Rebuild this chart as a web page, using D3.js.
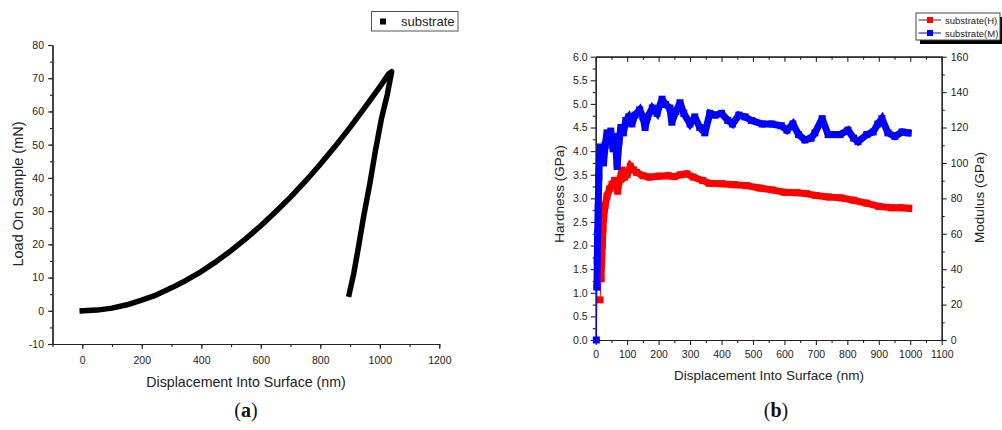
<!DOCTYPE html>
<html><head><meta charset="utf-8">
<script src="https://cdn.jsdelivr.net/npm/d3@7"></script>
<style>
body{margin:0;background:#fff;}
svg{display:block;font-family:"Liberation Sans",Arial,sans-serif;}
</style></head><body>
<svg id="chart" width="1002" height="430"></svg>
<script>
// ---- Panel (a): load vs. displacement ----
const loadingDepth = [0,50,100,150,200,250,300,350,400,450,500,550,600,650,700,750,800,850,900,950,1000,1030,1040];
const loadingForce = [0,0.2,0.8,1.8,3.2,4.8,6.9,9.2,11.8,14.8,18.1,21.7,25.6,29.8,34.2,39.0,44.1,49.5,55.2,61.2,67.4,71.3,72];
const unloadingDepth = [1040,1025,1006,985,967,945,927,912,897];
const unloadingForce = [72,65,58,48,38.5,28,18.5,11,5];
const ticksA_x = [0,200,400,600,800,1000,1200];
const ticksA_y = [-10,0,10,20,30,40,50,60,70,80];

// ---- Panel (b): hardness and modulus vs. displacement ----
const hardDepth = [14,17,19,21,23,26,30,36,44,52,60,66,70,74,84,92,100,110,120,130,150,170,200,230,250,270,290,310,340,360,400,440,480,520,560,600,640,670,700,740,780,820,860,900,940,970,995];
const hardness  = [0.85,1.3,1.65,2.0,2.35,2.65,2.85,3.05,3.2,3.3,3.38,3.25,3.15,3.35,3.6,3.45,3.5,3.68,3.6,3.55,3.48,3.45,3.47,3.48,3.46,3.5,3.52,3.45,3.38,3.32,3.31,3.29,3.27,3.22,3.18,3.13,3.12,3.1,3.06,3.03,3.01,2.96,2.9,2.83,2.8,2.8,2.79];
const modDepth = [2,4,5,6,8,10,12,15,20,25,30,36,42,48,55,62,68,74,80,88,96,105,115,125,140,150,157,165,180,195,211,222,236,242,255,268,280,300,315,331,347,363,380,400,420,435,455,475,495,530,560,590,608,627,645,665,685,697,720,739,760,777,802,820,834,862,882,897,910,929,951,974,993];
const modulus  = [0,30,45,60,75,92,103,109,104,100,110,117,112,118,108,115,98,112,120,117,124,126,122,127,130,126,120,126,131,128,136,133,131,123,129,134,128,122,126,120,117,128,127,128,124,122,127,126,124,122,122,121,118.5,122,116,113,114,117,125,116,116,116,118.5,114,112,116,117.5,122,125,117,115,117.5,117];
const ticksB_x = d3.range(0,1101,100);
const ticksB_h = d3.range(0,6.01,0.5);
const ticksB_m = d3.range(0,161,20);

const ink = "#222";
const svg = d3.select("#chart");
const intHyphen = d => String(Math.round(d));   // plain hyphen for negatives

function styleAxis(g, fontSize){
  g.select(".domain").attr("stroke", ink).attr("stroke-width", 1.2);
  g.selectAll(".tick line").attr("stroke", ink).attr("stroke-width", 1.1);
  g.selectAll(".tick text").attr("fill", ink).attr("font-size", fontSize)
    .attr("font-family", '"Liberation Sans",Arial,sans-serif');
  return g;
}

// ================= Panel (a) =================
const xA = d3.scaleLinear().domain([-100,1200]).range([52.5,439.3]);
const yA = d3.scaleLinear().domain([-10,80]).range([344,45]);
const gA = svg.append("g");

// minor ticks
gA.append("g").attr("transform","translate(0,344)")
  .call(d3.axisBottom(xA).tickValues(d3.range(-100,1201,100)).tickSize(3).tickSizeOuter(0).tickFormat(""))
  .call(g=>styleAxis(g,10.5));
gA.append("g").attr("transform","translate(52.5,0)")
  .call(d3.axisLeft(yA).tickValues(d3.range(-10,81,5)).tickSize(2.5).tickSizeOuter(0).tickFormat(""))
  .call(g=>styleAxis(g,10.5));
// major ticks with labels
gA.append("g").attr("transform","translate(0,344)")
  .call(d3.axisBottom(xA).tickValues(ticksA_x).tickSize(5).tickPadding(8).tickSizeOuter(0).tickFormat(intHyphen))
  .call(g=>styleAxis(g,10.5));
gA.append("g").attr("transform","translate(52.5,0)")
  .call(d3.axisLeft(yA).tickValues(ticksA_y).tickSize(4.5).tickPadding(4).tickSizeOuter(0).tickFormat(intHyphen))
  .call(g=>styleAxis(g,10.5));

gA.append("text").attr("x",246).attr("y",386.5).attr("text-anchor","middle")
  .attr("font-size",14.2).attr("fill",ink).text("Displacement Into Surface (nm)");
gA.append("text").attr("transform","translate(18,194) rotate(-90)")
  .attr("text-anchor","middle").attr("dominant-baseline","central")
  .attr("font-size",14.5).attr("fill",ink).text("Load On Sample (mN)");

const lineA = d3.line().x(d=>xA(d[0])).y(d=>yA(d[1]));
const curveA = loadingDepth.map((d,i)=>[d,loadingForce[i]])
  .concat(unloadingDepth.map((d,i)=>[d,unloadingForce[i]]));
gA.append("path").attr("d",lineA(curveA)).attr("fill","none")
  .attr("stroke","#000").attr("stroke-width",5.5)
  .attr("stroke-linejoin","round").attr("stroke-linecap","square");

// legend (a)
const legA = gA.append("g");
legA.append("rect").attr("x",371.5).attr("y",11.5).attr("width",86.5).attr("height",19.5)
  .attr("fill","#fff").attr("stroke","#555").attr("stroke-width",1);
legA.append("rect").attr("x",380).attr("y",18.5).attr("width",6).attr("height",6).attr("fill","#000");
legA.append("text").attr("x",401).attr("y",26).attr("font-size",13).attr("fill",ink).text("substrate");

// ================= Panel (b) =================
const xB = d3.scaleLinear().domain([0,1100]).range([595.7,941.7]);
const yH = d3.scaleLinear().domain([0,6]).range([340,56.7]);
const yM = d3.scaleLinear().domain([0,160]).range([340,56.7]);
const gB = svg.append("g");

// top frame (ticks pointing inward)
gB.append("g").attr("transform","translate(0,56.7)")
  .call(d3.axisTop(xB).tickValues(d3.range(50,1100,100)).tickSize(-3).tickSizeOuter(0).tickFormat(""))
  .call(g=>styleAxis(g,10.5));
gB.append("g").attr("transform","translate(0,56.7)")
  .call(d3.axisTop(xB).tickValues(ticksB_x).tickSize(-5).tickSizeOuter(0).tickFormat(""))
  .call(g=>styleAxis(g,10.5));
// bottom axis
gB.append("g").attr("transform","translate(0,340)")
  .call(d3.axisBottom(xB).tickValues(d3.range(50,1100,100)).tickSize(3).tickSizeOuter(0).tickFormat(""))
  .call(g=>styleAxis(g,10.5));
gB.append("g").attr("transform","translate(0,340)")
  .call(d3.axisBottom(xB).tickValues(ticksB_x).tickSize(5).tickPadding(6).tickSizeOuter(0).tickFormat(intHyphen))
  .call(g=>styleAxis(g,10.5));
// left hardness axis
gB.append("g").attr("transform","translate(595.7,0)")
  .call(d3.axisLeft(yH).tickValues(d3.range(0.25,6,0.5)).tickSize(3).tickSizeOuter(0).tickFormat(""))
  .call(g=>styleAxis(g,10.5));
gB.append("g").attr("transform","translate(595.7,0)")
  .call(d3.axisLeft(yH).tickValues(ticksB_h).tickSize(5).tickPadding(3).tickSizeOuter(0).tickFormat(d3.format(".1f")))
  .call(g=>styleAxis(g,10.5));
// right modulus axis
gB.append("g").attr("transform","translate(941.7,0)")
  .call(d3.axisRight(yM).tickValues(d3.range(10,160,20)).tickSize(3).tickSizeOuter(0).tickFormat(""))
  .call(g=>styleAxis(g,10.5));
gB.append("g").attr("transform","translate(941.7,0)")
  .call(d3.axisRight(yM).tickValues(ticksB_m).tickSize(5).tickPadding(4).tickSizeOuter(0).tickFormat(intHyphen))
  .call(g=>styleAxis(g,10.5));

gB.append("text").attr("x",769).attr("y",380).attr("text-anchor","middle")
  .attr("font-size",13.5).attr("fill",ink).text("Displacement Into Surface (nm)");
gB.append("text").attr("transform","translate(559,194) rotate(-90)")
  .attr("text-anchor","middle").attr("dominant-baseline","central")
  .attr("font-size",13.5).attr("fill",ink).text("Hardness (GPa)");
gB.append("text").attr("transform","translate(979,197.5) rotate(-90)")
  .attr("text-anchor","middle").attr("dominant-baseline","central")
  .attr("font-size",13.5).attr("fill",ink).text("Modulus (GPa)");

// series drawn as dense square markers joined by a thin line
function drawSeries(xs, ys, yScale, color){
  const pts = xs.map((d,i)=>[xB(d), yScale(ys[i])]);
  const line = d3.line();
  gB.append("path").attr("d",line(pts.slice(1))).attr("fill","none")
    .attr("stroke",color).attr("stroke-width",7)
    .attr("stroke-linejoin","miter").attr("stroke-miterlimit",2).attr("stroke-linecap","square");
  gB.append("path").attr("d",line(pts)).attr("fill","none")
    .attr("stroke",color).attr("stroke-width",1);
  gB.append("g").selectAll("rect").data(pts).join("rect")
    .attr("x",d=>d[0]-3.5).attr("y",d=>d[1]-3.5).attr("width",7).attr("height",7)
    .attr("fill",color);
}
drawSeries(hardDepth, hardness, yH, "#ff0000");
drawSeries(modDepth, modulus, yM, "#0000ff");

// legend (b) with drop shadow
const legB = gB.append("g");
legB.append("rect").attr("x",920).attr("y",17).attr("width",84).attr("height",27).attr("fill","#000");
legB.append("rect").attr("x",916).attr("y",13).attr("width",84).attr("height",27)
  .attr("fill","#fff").attr("stroke","#444").attr("stroke-width",1);
const legItems = [["substrate(H)","#ff0000","#333"],["substrate(M)","#0000ff","#0000ff"]];
legItems.forEach((it,i)=>{
  const cy = 20 + i*13;
  legB.append("line").attr("x1",918.5).attr("x2",941).attr("y1",cy).attr("y2",cy)
    .attr("stroke",it[2]).attr("stroke-width",1);
  legB.append("rect").attr("x",927).attr("y",cy-3).attr("width",6).attr("height",6).attr("fill",it[1]);
  legB.append("text").attr("x",945).attr("y",cy+3.5).attr("font-size",9.5).attr("fill",ink).text(it[0]);
});

// panel labels
[["a",246],["b",776]].forEach(p=>{
  const t = svg.append("text").attr("x",p[1]).attr("y",417).attr("text-anchor","middle")
    .attr("font-family",'"Liberation Serif","Times New Roman",serif').attr("font-size",20).attr("fill","#111");
  t.append("tspan").text("(");
  t.append("tspan").attr("font-weight","bold").text(p[0]);
  t.append("tspan").text(")");
});
</script>
</body></html>
